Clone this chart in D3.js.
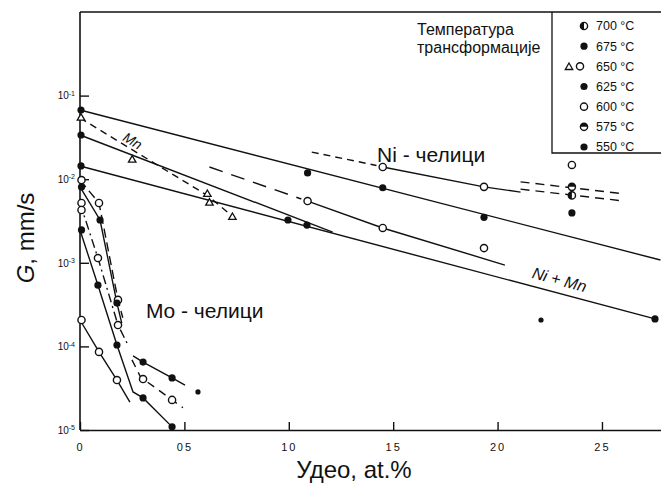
<!DOCTYPE html>
<html>
<head>
<meta charset="utf-8">
<script src="https://cdn.jsdelivr.net/npm/d3@7"></script>
<style>
  body { margin: 0; background: #fff; }
  text { font-family: "Liberation Sans", Arial, sans-serif; fill: #111; }
</style>
</head>
<body>
<svg id="chart" width="661" height="483"></svg>
<script>
// axis ticks (Ni / Mn read in at.%, Mo read on the 0 - 0.5 part)
var xTicks = [0, 5, 10, 15, 20, 25];
var xTickLabels = ["0", "05", "10", "15", "20", "25"];
var yTicks = [1e-1, 1e-2, 1e-3, 1e-4, 1e-5];
var yTickExp = ["-1", "-2", "-3", "-4", "-5"];

var legendTemps = ["700", "675", "650", "625", "600", "575", "550"];

// Ni, Mn and Ni + Mn steels, [at.%, G mm/s]
var niLineA = [[0, 0.0673], [27.8, 0.00108]];
var niTopDash = [[11.1, 0.0211], [14.2, 0.0146]];
var niTopSolid = [[14.5, 0.0140], [19.35, 0.0081], [21.1, 0.0070]];
var niTwinUpper = [[21.1, 0.0093], [26.0, 0.0067]];
var niTwinLower = [[21.1, 0.0076], [26.0, 0.0055]];
var niOpenDash = [[6.2, 0.0140], [10.6, 0.0058]];
var niOpenSolid = [[10.9, 0.00548], [14.5, 0.00261], [20.35, 0.00094]];
var niLineB = [[0, 0.0338], [12.1, 0.00233]];
var niMnLine = [[0, 0.0144], [27.54, 0.000213]];
var mnLine = [[0, 0.054], [6.1, 0.0064], [7.3, 0.0036]];

var niPoints = [
  [0, 0.0673, "675"], [10.9, 0.0119, "675"], [14.5, 0.0079, "675"], [19.35, 0.0035, "675"],
  [14.5, 0.0140, "600"], [19.35, 0.0081, "600"],
  [10.9, 0.00548, "650"], [14.5, 0.00261, "650"], [19.35, 0.0015, "650"],
  [0, 0.0338, "625"], [9.96, 0.00325, "625"], [10.87, 0.00283, "625"],
  [0, 0.0144, "675"], [27.54, 0.000213, "625"], [22.08, 0.000207, "550"],
  [23.56, 0.0148, "600"], [23.56, 0.0081, "575"], [23.56, 0.0064, "700"], [23.56, 0.00395, "675"],
  [0, 0.054, "650t"], [2.5, 0.0170, "650t"], [6.1, 0.0066, "650t"], [6.2, 0.0052, "650t"], [7.3, 0.0035, "650t"]
];

// Mo steels, [at.%, G mm/s]
var moUpperSolid = [[0, 0.00807], [0.096, 0.00325], [0.177, 0.00033], [0.20, 0.00019]];
var moUpperDash = [[0, 0.00977], [0.091, 0.00519], [0.182, 0.00036], [0.205, 0.00022]];
var moMidDashDot = [[0, 0.00519], [0.086, 0.00114], [0.182, 0.00018], [0.225, 0.00011]];
var moMidSolid = [[0, 0.00247], [0.086, 0.00054], [0.177, 0.000104], [0.254, 0.0000285], [0.302, 0.0000242], [0.441, 0.0000109]];
var moLowSolid = [[0, 0.000207], [0.091, 0.000086], [0.177, 0.0000396], [0.239, 0.0000216]];
var moRightSolid = [[0.254, 0.000077], [0.302, 0.000065], [0.441, 0.000042], [0.503, 0.0000345]];
var moRightDash = [[0.249, 0.000069], [0.29, 0.000043], [0.441, 0.0000229], [0.493, 0.0000185]];

var moPoints = [
  [0, 0.00977, "600"], [0, 0.00807, "675"], [0, 0.00519, "600"], [0, 0.00428, "600"], [0, 0.00247, "625"], [0, 0.000207, "600"],
  [0.091, 0.00519, "600"], [0.096, 0.00325, "675"],
  [0.086, 0.00114, "600"], [0.086, 0.00054, "625"],
  [0.182, 0.00036, "600"], [0.177, 0.00033, "675"],
  [0.182, 0.00018, "600"], [0.177, 0.000104, "625"],
  [0.091, 0.000086, "600"], [0.177, 0.0000396, "600"],
  [0.302, 0.000065, "675"], [0.441, 0.000042, "675"],
  [0.302, 0.0000407, "600"], [0.441, 0.0000229, "600"],
  [0.302, 0.0000242, "625"], [0.441, 0.0000109, "625"],
  [0.565, 0.0000285, "550"]
];

var svg = d3.select("#chart");

var x = d3.scaleLinear().domain([0, 28]).range([80, 664.6]);
var xMo = d3.scaleLinear().domain([0, 2.8]).range([80, 664.6]);
var y = d3.scaleLog().domain([1e-5, 1]).range([430, 12]);

// frame
svg.append("line").attr("x1", 80).attr("x2", 661).attr("y1", 12).attr("y2", 12)
  .attr("stroke", "#111").attr("stroke-width", 1.5);

var xAxis = svg.append("g")
  .attr("transform", "translate(0,430)")
  .call(d3.axisBottom(x).tickValues(xTicks).tickSize(-8).tickSizeOuter(0).tickPadding(13)
    .tickFormat(function (d, i) { return xTickLabels[i]; }));

var yAxis = svg.append("g")
  .attr("transform", "translate(80,0)")
  .call(d3.axisLeft(y).tickValues(yTicks).tickSize(-9).tickSizeOuter(0).tickPadding(5)
    .tickFormat(function () { return ""; }));

[xAxis, yAxis].forEach(function (ax) {
  ax.select(".domain").attr("stroke", "#111").attr("stroke-width", 1.6);
  ax.selectAll(".tick line").attr("stroke", "#111").attr("stroke-width", 1.4);
});
xAxis.selectAll(".tick text").attr("font-size", 11).attr("letter-spacing", 2)
  .attr("font-family", "Liberation Sans").attr("fill", "#111");
yAxis.select(".domain").attr("d", "M0,430V12");

// 10^n labels
yAxis.selectAll(".tick text").each(function (d, i) {
  var t = d3.select(this).attr("font-size", 10).attr("font-family", "Liberation Sans").attr("fill", "#111");
  t.text("10");
  t.append("tspan").attr("font-size", 7).attr("dy", "-0.5em").text(yTickExp[i]);
});

// lines
var line = d3.line().x(function (d) { return x(d[0]); }).y(function (d) { return y(d[1]); });
var lineMo = d3.line().x(function (d) { return xMo(d[0]); }).y(function (d) { return y(d[1]); });

function drawLine(gen, data, dash) {
  svg.append("path")
    .attr("d", gen(data))
    .attr("fill", "none")
    .attr("stroke", "#111")
    .attr("stroke-width", 1.4)
    .attr("stroke-dasharray", dash || null);
}

drawLine(line, niLineA);
drawLine(line, niTopDash, "7,5");
drawLine(line, niTopSolid);
drawLine(line, niTwinUpper, "9,6");
drawLine(line, niTwinLower, "9,6");
drawLine(line, niOpenDash, "14,9");
drawLine(line, niOpenSolid);
drawLine(line, niLineB);
drawLine(line, niMnLine);
drawLine(line, mnLine, "7,5");

drawLine(lineMo, moUpperSolid);
drawLine(lineMo, moUpperDash, "9,5");
drawLine(lineMo, moMidDashDot, "9,4,2,4");
drawLine(lineMo, moMidSolid);
drawLine(lineMo, moLowSolid);
drawLine(lineMo, moRightSolid);
drawLine(lineMo, moRightDash, "8,6");

// markers
function drawMarker(g, key, cx, cy) {
  var r = 3.6;
  if (key === "650t") {
    g.append("path")
      .attr("d", d3.symbol().type(d3.symbolTriangle).size(24)())
      .attr("transform", "translate(" + cx + "," + cy + ")")
      .attr("fill", "#fff").attr("stroke", "#111").attr("stroke-width", 1.3);
    return;
  }
  if (key === "675" || key === "625") {
    g.append("circle").attr("cx", cx).attr("cy", cy).attr("r", r).attr("fill", "#111");
    return;
  }
  if (key === "550") {
    g.append("circle").attr("cx", cx).attr("cy", cy).attr("r", 2.6).attr("fill", "#111");
    return;
  }
  g.append("circle").attr("cx", cx).attr("cy", cy).attr("r", r)
    .attr("fill", "#fff").attr("stroke", "#111").attr("stroke-width", 1.4);
  if (key === "700") {
    g.append("path")
      .attr("d", "M" + cx + "," + (cy - r) + "A" + r + "," + r + " 0 0 0 " + cx + "," + (cy + r) + "Z")
      .attr("fill", "#111");
  } else if (key === "575") {
    g.append("path")
      .attr("d", "M" + (cx - r) + "," + cy + "A" + r + "," + r + " 0 0 1 " + (cx + r) + "," + cy + "Z")
      .attr("fill", "#111");
  }
}

var marks = svg.append("g");
niPoints.forEach(function (p) { drawMarker(marks, p[2], x(p[0]) + (p[0] === 0 ? 1 : 0), y(p[1])); });
moPoints.forEach(function (p) { drawMarker(marks, p[2], xMo(p[0]) + (p[0] === 0 ? 1.5 : 0), y(p[1])); });

// labels
svg.append("text").attr("x", 377).attr("y", 162).attr("font-size", 21).text("Ni - челици");
svg.append("text").attr("x", 146).attr("y", 318).attr("font-size", 21).text("Mo - челици");
svg.append("text").attr("transform", "translate(130,145) rotate(31)")
  .attr("text-anchor", "middle").attr("font-size", 14).attr("font-style", "italic").text("Mn");
svg.append("text").attr("transform", "translate(558,285) rotate(15)")
  .attr("text-anchor", "middle").attr("font-size", 16).attr("font-style", "italic").text("Ni + Mn");

// axis titles
svg.append("text").attr("x", 354).attr("y", 478).attr("text-anchor", "middle")
  .attr("font-size", 24).text("Удео, at.%");
var yTitle = svg.append("text").attr("transform", "translate(34,238) rotate(-90)")
  .attr("text-anchor", "middle").attr("font-size", 24);
yTitle.append("tspan").attr("font-style", "italic").text("G");
yTitle.append("tspan").text(", mm/s");

// legend
svg.append("text").attr("x", 417).attr("y", 35).attr("font-size", 16).text("Температура");
svg.append("text").attr("x", 417).attr("y", 53).attr("font-size", 16).text("трансформације");
svg.append("path").attr("d", "M552,12V153H661").attr("fill", "none")
  .attr("stroke", "#111").attr("stroke-width", 1.3);

var ly = d3.scalePoint().domain(legendTemps).range([26, 147]);
var legend = svg.append("g");
legendTemps.forEach(function (t) {
  if (t === "650") {
    drawMarker(legend, "650t", 569, ly(t) + 1);
    drawMarker(legend, "650", 580, ly(t));
  } else {
    drawMarker(legend, t === "550" ? "625" : t, 584, ly(t));
  }
  legend.append("text").attr("x", 596).attr("y", ly(t)).attr("dy", "0.35em")
    .attr("font-size", 12.5).text(t + " °C");
});
</script>
</body>
</html>
